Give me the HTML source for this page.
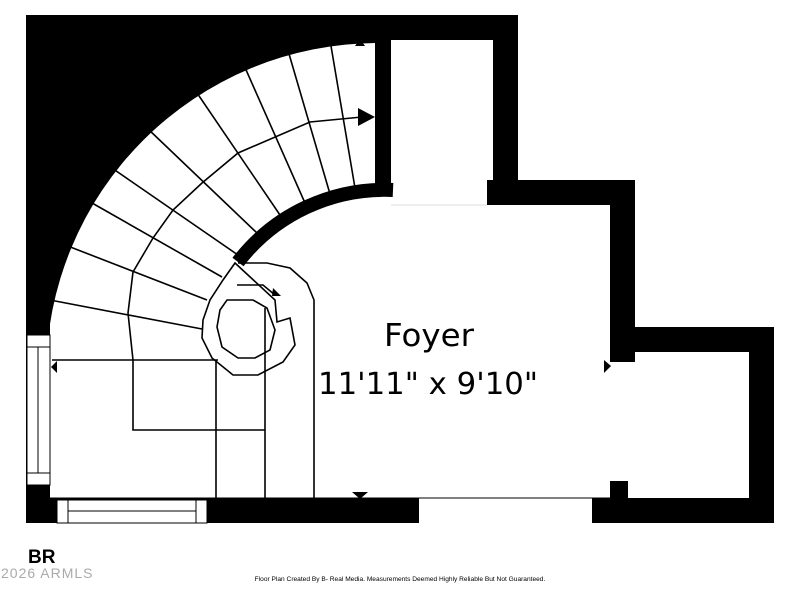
<!DOCTYPE html>
<html><head><style>
html,body{margin:0;padding:0;background:#fff;width:800px;height:600px;overflow:hidden;}
svg{display:block;}
</style></head><body>
<svg width="800" height="600" viewBox="0 0 800 600" xmlns="http://www.w3.org/2000/svg">
<defs>
<clipPath id="tl"><rect x="26" y="15" width="350" height="330"/></clipPath>
</defs>
<g clip-path="url(#tl)">
<rect x="26" y="15" width="350" height="330" fill="#000"/>
<circle cx="378" cy="375" r="332" fill="#fff"/>
</g>
<rect x="26" y="15" width="492" height="25" fill="#000"/>
<rect x="375" y="40" width="16" height="150" fill="#000"/>
<rect x="493" y="15" width="25" height="190" fill="#000"/>
<rect x="487" y="180" width="148" height="25" fill="#000"/>
<rect x="610" y="180" width="25" height="182" fill="#000"/>
<line x1="391" y1="205" x2="487" y2="205" stroke="#ddd" stroke-width="1"/>
<rect x="610" y="327" width="164" height="25" fill="#000"/>
<rect x="749" y="327" width="25" height="196" fill="#000"/>
<rect x="592" y="498" width="182" height="25" fill="#000"/>
<rect x="610" y="481" width="18" height="20" fill="#000"/>
<rect x="26" y="300" width="24" height="223" fill="#000"/>
<rect x="26" y="498" width="393" height="25" fill="#000"/>
<rect x="27" y="335" width="23" height="150" fill="#fff" stroke="#000" stroke-width="1"/>
<line x1="27" y1="347" x2="50" y2="347" stroke="#000"/>
<line x1="27" y1="473" x2="50" y2="473" stroke="#000"/>
<line x1="38" y1="347" x2="38" y2="473" stroke="#000"/>
<rect x="57" y="500" width="150" height="23" fill="#fff" stroke="#000"/>
<line x1="68" y1="500" x2="68" y2="523" stroke="#000"/>
<line x1="196" y1="500" x2="196" y2="523" stroke="#000"/>
<line x1="68" y1="511" x2="196" y2="511" stroke="#000"/>
<path d="M 393 190 A 185 185 0 0 0 238 262" fill="none" stroke="#000" stroke-width="14"/>
<g stroke="#000" stroke-width="1.6" fill="none">
<line x1="330" y1="40" x2="355" y2="188"/>
<line x1="287" y1="47" x2="330" y2="194"/>
<line x1="243" y1="63" x2="305" y2="203"/>
<line x1="195" y1="90" x2="280" y2="215"/>
<line x1="147" y1="128" x2="257" y2="233"/>
<line x1="109" y1="166" x2="238" y2="255"/>
<line x1="85" y1="199" x2="222" y2="277"/>
<line x1="60" y1="243" x2="207" y2="300"/>
<line x1="50" y1="300" x2="202" y2="329"/>
<line x1="52" y1="360" x2="218" y2="360"/>
<polyline points="362,117 310,122 238,153 202,183 173,210 153,238 133,272 128,313 133,360 133,430 265,430"/>
<line x1="216" y1="360" x2="216" y2="498"/>
<line x1="265" y1="308" x2="265" y2="498"/>
<polyline points="238,263 267,263 290,268 307,283 314,300 314,498"/>
<line x1="50" y1="498" x2="610" y2="498" stroke-width="1"/>
<polygon points="235,263 223,280 210,300 203,320 202,338 212,358 233,375 258,375 283,362 295,345 290,318 277,322 275,300"/>
<polygon points="227,300 253,300 267,308 275,330 270,350 255,358 238,358 222,347 217,327 220,310"/>
<polyline points="237,285 263,285 275,295"/>
</g>
<polygon points="358,108 375,117 358,126" fill="#000"/>
<polygon points="355,46 360,39 365,46" fill="#000"/>
<polygon points="352,492 360,499 368,492" fill="#000"/>
<polygon points="57,361 51,367 57,373" fill="#000"/>
<polygon points="604,360 611,366 604,373" fill="#000"/>
<polygon points="273,288 281,296 272,296" fill="#000"/>
<text x="384" y="346" textLength="90" lengthAdjust="spacingAndGlyphs" font-family="'DejaVu Sans','Liberation Sans',sans-serif" font-size="31" fill="#000">Foyer</text>
<text x="318" y="394" textLength="220" lengthAdjust="spacingAndGlyphs" font-family="'DejaVu Sans','Liberation Sans',sans-serif" font-size="30" fill="#000">11'11" x 9'10"</text>
<text x="28" y="563" font-family="'Liberation Sans',sans-serif" font-size="19" font-weight="bold" fill="#000">BR</text>
<text x="1" y="578" font-family="'Liberation Sans',sans-serif" font-size="14" fill="#aaa" letter-spacing="1">2026 ARMLS</text>
<text x="400" y="581" text-anchor="middle" font-family="'Liberation Sans',sans-serif" font-size="6.6" fill="#000">Floor Plan Created By B- Real Media. Measurements Deemed Highly Reliable But Not Guaranteed.</text>
</svg>
</body></html>
